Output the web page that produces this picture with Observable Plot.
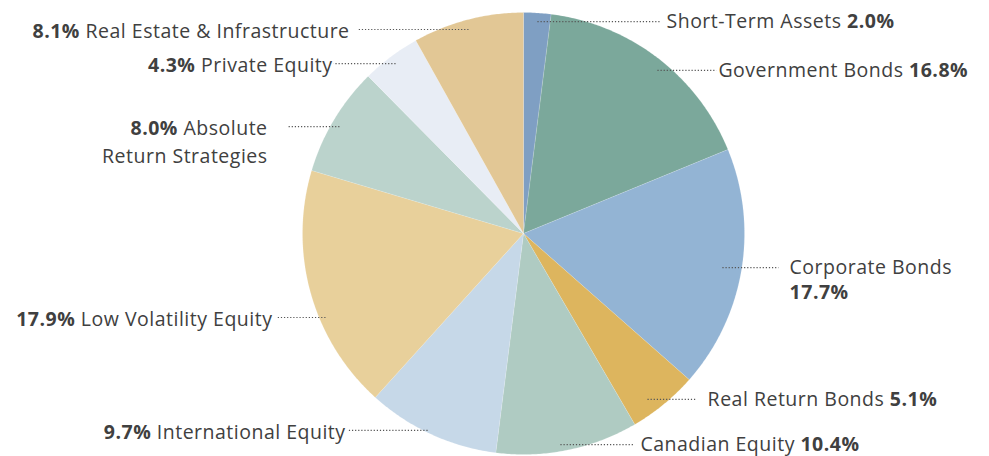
<!DOCTYPE html>
<html>
<head>
<meta charset="utf-8">
<script src="https://cdn.jsdelivr.net/npm/d3@7"></script>
<script src="https://cdn.jsdelivr.net/npm/@observablehq/plot@0.6"></script>
<style>
  html, body { margin: 0; padding: 0; background: #ffffff; }
  #chart svg { display: block; }
</style>
</head>
<body>
<div id="chart"></div>
<script>
// ---- data ----
const categories = ["Short-Term Assets", "Government Bonds", "Corporate Bonds", "Real Return Bonds", "Canadian Equity", "International Equity", "Low Volatility Equity", "Absolute Return Strategies", "Private Equity", "Real Estate & Infrastructure"];
const values = [2.0, 16.8, 17.7, 5.1, 10.4, 9.7, 17.9, 8.0, 4.3, 8.1];
const colors = ["#7f9fc3", "#7ba89b", "#93b4d4", "#ddb55e", "#afcbc2", "#c6d8e8", "#e8d09b", "#bbd3cc", "#e8edf5", "#e2c795"];
// label display names (line breaks as in the original)
const labelNames = ["Short-Term Assets", "Government Bonds", "Corporate Bonds", "Real Return Bonds", "Canadian Equity", "International Equity", "Low Volatility Equity", "Absolute\nReturn Strategies", "Private Equity", "Real Estate & Infrastructure"];
const labelSide = ["right", "right", "right", "right", "right", "left", "left", "left", "left", "left"];
const pctOnNewLine = [false, false, true, false, false, false, false, false, false, false];
// annotation layout, in pie-radius units (centre = 0,0; y up)
const labelY =      [0.959, 0.738, -0.154, -0.751, -0.955, -0.891, -0.380, 0.484, 0.769, 0.923];
const leaderPie =   [0.063, 0.606,  0.900,  0.561,  0.167, -0.434, -0.896, -0.833, -0.579, -0.249];
const leaderText =  [0.620, 0.873,  1.154,  0.778,  0.498, -0.792, -1.113, -1.068, -0.860, -0.751];
const textX =       [0.647, 0.882,  1.204,  0.833,  0.529, -0.805, -1.136, -1.158, -0.864, -0.787];

// ---- build slices from the data ----
const arcs = d3.pie().sort(null).startAngle(0).endAngle(2 * Math.PI)(values);
const slicePts = [];
arcs.forEach((a, i) => {
  const name = categories[i];
  slicePts.push({name, x: 0, y: 0});
  const n = Math.max(4, Math.ceil((a.endAngle - a.startAngle) / (Math.PI / 360)));
  for (let k = 0; k <= n; k++) {
    const t = a.startAngle + (a.endAngle - a.startAngle) * k / n;
    slicePts.push({name, x: Math.sin(t), y: Math.cos(t)});
  }
  slicePts.push({name, x: 0, y: 0});
});

const labels = categories.map((c, i) => {
  const pct = `**${values[i].toFixed(1)}%**`;
  const text = labelSide[i] === "right"
    ? labelNames[i] + (pctOnNewLine[i] ? "\n" : " ") + pct
    : pct + " " + labelNames[i];
  return {name: c, text, side: labelSide[i], x: textX[i], y: labelY[i], lx1: leaderPie[i], lx2: leaderText[i]};
});

const font = "'Open Sans', Carlito, Calibri, sans-serif";
const fs = 19.5;

const chart = Plot.plot({
  width: 989,
  height: 456,
  margin: 0,
  style: {background: "#ffffff", fontFamily: font, letterSpacing: "0.5px"},
  x: {domain: [-1, 1], range: [302, 744], axis: null},
  y: {domain: [-1, 1], range: [454, 12], axis: null},
  color: {domain: categories, range: colors},
  marks: [
    Plot.line(slicePts, {x: "x", y: "y", z: "name", fill: "name", stroke: "#ffffff", strokeWidth: 0.4, strokeOpacity: 0.35, curve: "linear"}),
    Plot.link(labels, {x1: "lx1", x2: "lx2", y1: "y", y2: "y", stroke: "#555555", strokeWidth: 1.2, strokeDasharray: "1.2,1.9"}),
    Plot.text(labels.filter(d => d.side === "right"), {x: "x", y: "y", text: "text", textAnchor: "start", lineAnchor: "top", dy: -11.6, fontSize: fs, lineHeight: 1.28, fill: "#404040"}),
    Plot.text(labels.filter(d => d.side === "left"), {x: "x", y: "y", text: "text", textAnchor: "end", lineAnchor: "top", dy: -11.6, fontSize: fs, lineHeight: 1.44, fill: "#404040"})
  ]
});

// bold the percentages (marked with **)
chart.querySelectorAll("text, tspan").forEach(el => {
  if (el.children.length) return;
  const s = el.textContent;
  if (!s.includes("**")) return;
  const parts = s.split("**");
  el.textContent = "";
  parts.forEach((p, k) => {
    if (!p) return;
    const t = document.createElementNS("http://www.w3.org/2000/svg", "tspan");
    t.textContent = p;
    if (k % 2 === 1) t.setAttribute("font-weight", "bold");
    el.appendChild(t);
  });
});

document.getElementById("chart").appendChild(chart);
</script>
</body>
</html>
